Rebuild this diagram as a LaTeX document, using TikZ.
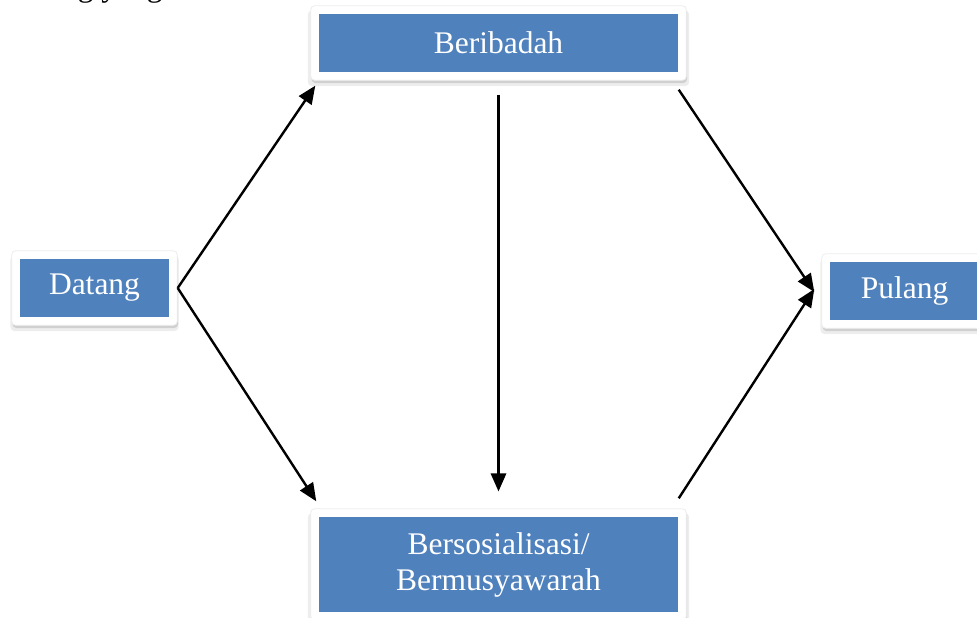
\documentclass[tikz,border=0pt]{standalone}
\usepackage{fontspec}
\setmainfont{Liberation Serif}
\usepackage{xcolor}
\usepackage{tikz}
\usetikzlibrary{positioning,fit,backgrounds,shadows,arrows.meta}
\definecolor{boxblue}{HTML}{4F81BD}

\begin{document}
\begin{tikzpicture}[x=0.025cm,y=0.025cm,
                box/.style={fill=boxblue,text=white,inner sep=0pt,align=center,
                            font=\fontsize{22.4}{25.6}\selectfont},
                small/.style={box,minimum width=3.725cm,minimum height=1.45cm},
                wide/.style={box,minimum width=8.975cm,minimum height=1.45cm},
                frame/.style={fill=white,draw=black!7,line width=0.02cm,rounded corners=0.1cm,inner sep=0.2cm,
                              general shadow={fill=black,opacity=.07,shadow scale=1.015,shadow yshift=-0.13cm},
                              general shadow={fill=black,opacity=.12,shadow xshift=0.02cm,shadow yshift=-0.07cm}},
                arr/.style={line width=0.06cm,-{Triangle[length=0.45cm,width=0.38cm]}}]
                \useasboundingbox (0,0) rectangle (977,617);
                % cut-off line of text above the figure
                \node[anchor=base east,inner sep=0pt,font=\fontsize{22.4}{25.6}\selectfont] (teks) at (163,620) {orang yang};
                \node[wide] (ibadah) at (498.5,574) {Beribadah};
                \node[small] (datang) at (94.5,329) {Datang};
                \node[small] (pulang) at (904.5,326) {Pulang};
                \node[wide,minimum height=2.375cm] (sosial) at (498.5,52.5) {Bersosialisasi/\\Bermusyawarah};
                \begin{scope}[on background layer]
                    \node[frame,fit=(ibadah)] (fibadah) {};
                    \node[frame,fit=(datang)] (fdatang) {};
                    \node[frame,fit=(pulang)] (fpulang) {};
                    \node[frame,fit=(sosial)] (fsosial) {};
                \end{scope}
                \draw[arr] (fdatang.east) -- ([shift={(5,-5)}]fibadah.south west);
                \draw[arr] (fdatang.east) -- ([shift={(6,7)}]fsosial.north west);
                \draw[arr] ([yshift=-10]fibadah.south) -- ([yshift=12]fsosial.north);
                \draw[arr] ([shift={(-8,-9)}]fibadah.south east) -- ([shift={(-7,-1)}]fpulang.west);
                \draw[arr] ([shift={(-8,10)}]fsosial.north east) -- ([shift={(-7,2)}]fpulang.west);
            \end{tikzpicture}
\end{document}
